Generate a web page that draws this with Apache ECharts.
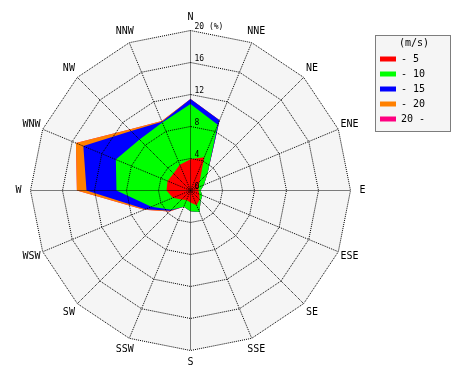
<!DOCTYPE html>
<html><head><meta charset="utf-8">
<script src="https://cdn.jsdelivr.net/npm/echarts@6/dist/echarts.min.js"></script>
<style>html,body{margin:0;padding:0;background:#fff}#c{width:470px;height:380px}</style>
</head><body><div id="c"></div>
<script>
// Directions, clockwise from north
const directions = ['N','NNE','NE','ENE','E','ESE','SE','SSE','S','SSW','SW','WSW','W','WNW','NW','NNW'];
// Wind speed classes (m/s)
const speedClasses = ['- 5','- 10','- 15','- 20','20 -'];
const classColors = ['#ff0000','#00ff00','#0000ff','#ff8000','#ff0080'];
// Frequency (%) per class per direction (clockwise from N)
const freqTo5   = [3.9, 4.5, 1.6, 1.1, 1.0, 1.2, 1.6, 2.0, 1.5, 1.3, 1.6, 2.4, 3.0, 3.1, 3.0, 3.5];
const freqTo10  = [6.9, 4.4, 1.4, 0.7, 0.25,0.4, 0.2, 0.9, 1.1, 0.9, 1.8, 2.9, 6.25,7.0, 6.0, 5.7];
const freqTo15  = [0.65,0.6, 0.0, 0.0, 0.0, 0.0, 0.0, 0.0, 0.0, 0.0, 0.2, 0.8, 3.75,4.4, 1.5, 0.1];
const freqTo20  = [0.0, 0.0, 0.0, 0.0, 0.0, 0.0, 0.0, 0.0, 0.0, 0.0, 0.1, 0.2, 1.2, 1.0, 0.3, 0.1];
const freqOver20= [0,0,0,0,0,0,0,0,0,0,0,0,0,0,0,0];
const radialMax = 20;
const radialSplits = 5;

const classData = [freqTo5, freqTo10, freqTo15, freqTo20, freqOver20];
// radar indicators run counter-clockwise: reorder to N, NNW, NW, ...
const order = directions.map((d, i) => i === 0 ? 0 : directions.length - i);
// cumulative sums per class
const cumulative = [];
let running = directions.map(() => 0);
classData.forEach(arr => {
  running = running.map((v, i) => +(v + arr[i]).toFixed(3));
  cumulative.push(running.slice());
});

const mono = 'DejaVu Sans Mono';
const indicatorsBase = order.map(i => ({ name: directions[i], min: 0, max: radialMax }));
const indicatorsTop = order.map((i, k) => {
  const o = { name: directions[i], min: 0, max: radialMax };
  if (k === 0) o.axisLabel = {
    show: true, color: '#000', fontFamily: mono, fontSize: 8,
    margin: -4, align: 'left', verticalAlign: 'bottom',
    formatter: v => v === radialMax ? v + ' (%)' : String(v)
  };
  return o;
});

const geom = { center: [190.5, 190.5], radius: 160, shape: 'polygon', splitNumber: radialSplits, startAngle: 90 };
const dotted = { color: '#000', type: [1, 1], width: 1, cap: 'butt' };

const series = [];
for (let c = speedClasses.length - 1; c >= 0; c--) {
  series.push({
    type: 'radar', radarIndex: 0, z: 2, silent: true,
    symbol: 'none',
    lineStyle: { width: 0, opacity: 0 },
    areaStyle: { color: classColors[c], opacity: 1 },
    itemStyle: { color: classColors[c] },
    data: [{ name: speedClasses[c], value: order.map(i => cumulative[c][i]) }]
  });
}

const chart = echarts.init(document.getElementById('c'), null, { renderer: 'canvas' });
chart.setOption({
  animation: false,
  backgroundColor: '#fff',
  radar: [
    Object.assign({}, geom, {
      z: 1, indicator: indicatorsBase,
      axisName: { show: false },
      splitArea: { show: true, areaStyle: { color: ['#f5f5f5'] } },
      splitLine: { show: false }, axisLine: { show: false },
      axisTick: { show: false }, axisLabel: { show: false }
    }),
    Object.assign({}, geom, {
      z: 3, indicator: indicatorsTop,
      nameGap: 12,
      axisName: { color: '#000', fontFamily: mono, fontSize: 10, align: 'center', verticalAlign: 'middle' },
      splitArea: { show: false },
      splitLine: { show: true, lineStyle: dotted },
      axisLine: { show: true, lineStyle: dotted },
      axisTick: { show: false },
      axisLabel: { show: false }
    })
  ],
  legend: {
    data: speedClasses, orient: 'vertical', left: 380, top: 54,
    itemWidth: 16, itemHeight: 5, itemGap: 5, icon: 'rect', padding: 0,
    selectedMode: false,
    textStyle: { color: '#000', fontFamily: mono, fontSize: 10, lineHeight: 10 }
  },
  graphic: [
    { type: 'rect', z: 0, shape: { x: 375.5, y: 35.5, width: 75, height: 96 },
      style: { fill: '#f5f5f5', stroke: '#000', lineWidth: 1, lineDash: [1, 1] } },
    { type: 'text', z: 1, x: 414, y: 43,
      style: { text: '(m/s)', fill: '#000', font: '10px ' + mono, textAlign: 'center', textVerticalAlign: 'middle' } }
  ],
  series: series
});
</script>
</body></html>
